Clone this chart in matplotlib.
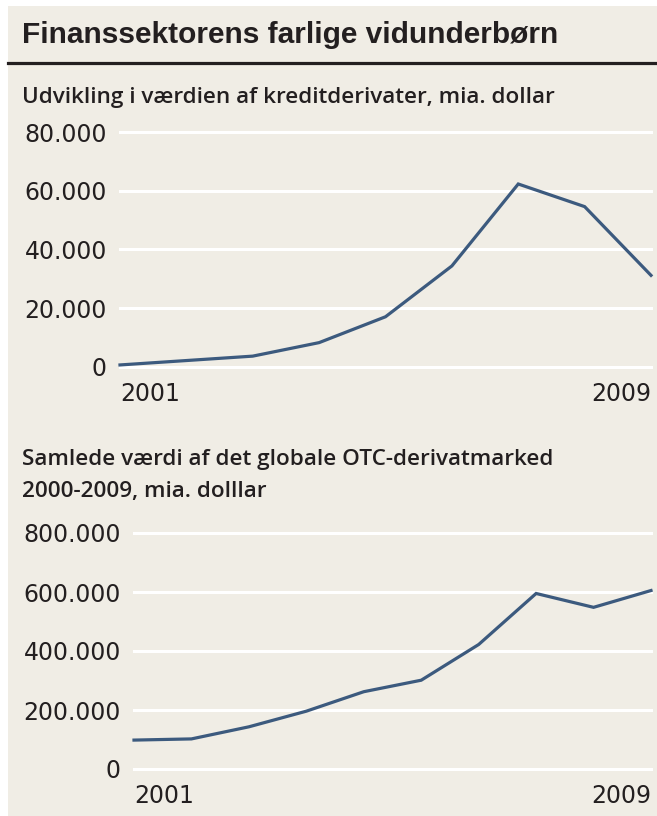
import matplotlib
matplotlib.use("Agg")
import matplotlib.pyplot as plt
from matplotlib.patches import Rectangle
from matplotlib.lines import Line2D

# data
credit_years = [2001, 2002, 2003, 2004, 2005, 2006, 2007, 2008, 2009]
credit_values = [700, 2200, 3700, 8300, 17100, 34400, 62300, 54600, 31200]
credit_ticks = [0, 20000, 40000, 60000, 80000]

otc_points = list(range(10))
otc_values = [98000, 102000, 143000, 196000, 262000, 301000, 422000, 595000, 548000, 605000]
otc_ticks = [0, 200000, 400000, 600000, 800000]

x_labels = ["2001", "2009"]

W, H = 657, 816
BG = "#f0ede5"
LINE = "#3c5a7e"
INK = "#231f20"

fig = plt.figure(figsize=(W / 100, H / 100), dpi=100, facecolor="white")

# beige panel and title rule
fig.patches.append(Rectangle((8 / W, 0), 1 - 8 / W, 1 - 6 / H, transform=fig.transFigure,
                             facecolor=BG, edgecolor="none", zorder=-5))
fig.lines.append(Line2D([8 / W, 1], [1 - 62.5 / H] * 2, transform=fig.transFigure,
                        color=INK, lw=2.3, zorder=-4))


def px_text(x, y, s, **kw):
    fig.text(x / W, 1 - y / H, s, va="baseline", **kw)


px_text(22, 43.3, "Finanssektorens farlige vidunderbørn", fontsize=21.5,
        family="Liberation Sans", weight="bold", color=INK)
sub = dict(fontsize=16.2, family="Open Sans", weight="semibold", color=INK)
px_text(22, 102.5, "Udvikling i værdien af kreditderivater, mia. dollar", **sub)
px_text(22, 465, "Samlede værdi af det globale OTC-derivatmarked", **sub)
px_text(22, 497, "2000-2009, mia. dolllar", **sub)


def fmt(v):
    return f"{v:,}".replace(",", ".")


def panel(left, right, top, bottom, xs, ys, ticks):
    ax = fig.add_axes([left / W, 1 - bottom / H, (right - left) / W, (bottom - top) / H])
    ax.set_facecolor("none")
    n = len(xs) - 1
    ax.set_xlim(0, n)
    ax.set_ylim(ticks[0], ticks[-1])
    for t in ticks:
        ax.axhline(t, color="white", lw=2.2, zorder=1, clip_on=False)
    ax.plot(range(len(xs)), ys, color=LINE, lw=2.3, zorder=3, clip_on=False,
            solid_joinstyle="miter")
    for s in ax.spines.values():
        s.set_visible(False)
    ax.set_yticks(ticks, [fmt(t) for t in ticks])
    ax.set_xticks([0, n], x_labels)
    ax.tick_params(length=0, labelsize=17, labelcolor=INK)
    ax.tick_params(axis="y", pad=9.5)
    ax.tick_params(axis="x", pad=11)
    lab = ax.get_xticklabels()
    lab[0].set_ha("left")
    lab[1].set_ha("right")
    return ax


panel(120, 651, 132, 367, credit_years, credit_values, credit_ticks)
panel(134, 651, 533, 769, otc_points, otc_values, otc_ticks)

fig.savefig("out.png", dpi=100, facecolor="white")
